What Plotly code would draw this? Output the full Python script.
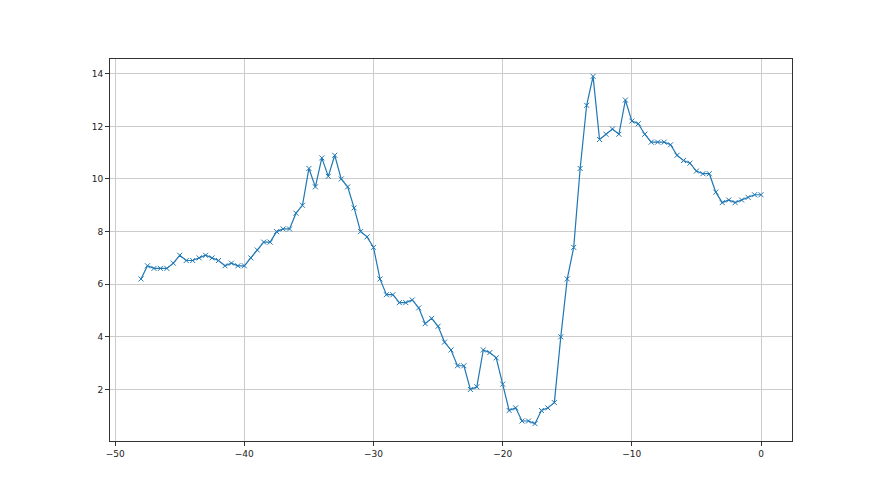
import plotly.graph_objects as go

x_values = [i * 0.5 - 48 for i in range(97)]
y_values = [
    6.2, 6.7, 6.6, 6.6, 6.6, 6.8, 7.1, 6.9, 6.9, 7.0, 7.1, 7.0, 6.9, 6.7, 6.8, 6.7, 6.7,
    7.0, 7.3, 7.6, 7.6, 8.0, 8.1, 8.1, 8.7, 9.0, 10.4, 9.7, 10.8, 10.1, 10.9, 10.0, 9.7, 8.9, 8.0, 7.8, 7.4,
    6.2, 5.6, 5.6, 5.3, 5.3, 5.4, 5.1, 4.5, 4.7, 4.4, 3.8, 3.5, 2.9, 2.9, 2.0, 2.1, 3.5, 3.4, 3.2, 2.2,
    1.2, 1.3, 0.8, 0.8, 0.7, 1.2, 1.3, 1.5, 4.0, 6.2, 7.4, 10.4, 12.8, 13.9, 11.5, 11.7, 11.9, 11.7, 13.0, 12.2,
    12.1, 11.7, 11.4, 11.4, 11.4, 11.3, 10.9, 10.7, 10.6, 10.3, 10.2, 10.2, 9.5, 9.1, 9.2, 9.1, 9.2, 9.3, 9.4, 9.4,
]
x_ticks = [-50, -40, -30, -20, -10, 0]
y_ticks = [2, 4, 6, 8, 10, 12, 14]

fig = go.Figure()
fig.add_trace(go.Scatter(
    x=x_values, y=y_values, mode="lines+markers",
    line=dict(color="#1f77b4", width=1.2),
    marker=dict(symbol="x-thin", size=5, color="#1f77b4",
                line=dict(color="#1f77b4", width=1)),
    showlegend=False,
))

axis_common = dict(
    showline=True, linecolor="#333333", linewidth=1, mirror=True,
    ticks="outside", ticklen=4, tickcolor="#333333", tickwidth=1,
    showgrid=True, gridcolor="#cccccc", gridwidth=1,
    zeroline=False,
    tickfont=dict(family="DejaVu Sans", size=9, color="#222222"),
)
fig.update_xaxes(range=[-50.4, 2.4], tickvals=x_ticks,
                 ticktext=["\u2212" + str(-t) if t < 0 else str(t) for t in x_ticks],
                 **axis_common)
fig.update_yaxes(range=[0.04, 14.56], tickvals=y_ticks,
                 ticktext=[str(t) for t in y_ticks], **axis_common)

fig.update_layout(
    width=880, height=495,
    margin=dict(l=102, r=96, t=51, b=62),
    paper_bgcolor="white", plot_bgcolor="white",
)
fig.write_html("out.html")
